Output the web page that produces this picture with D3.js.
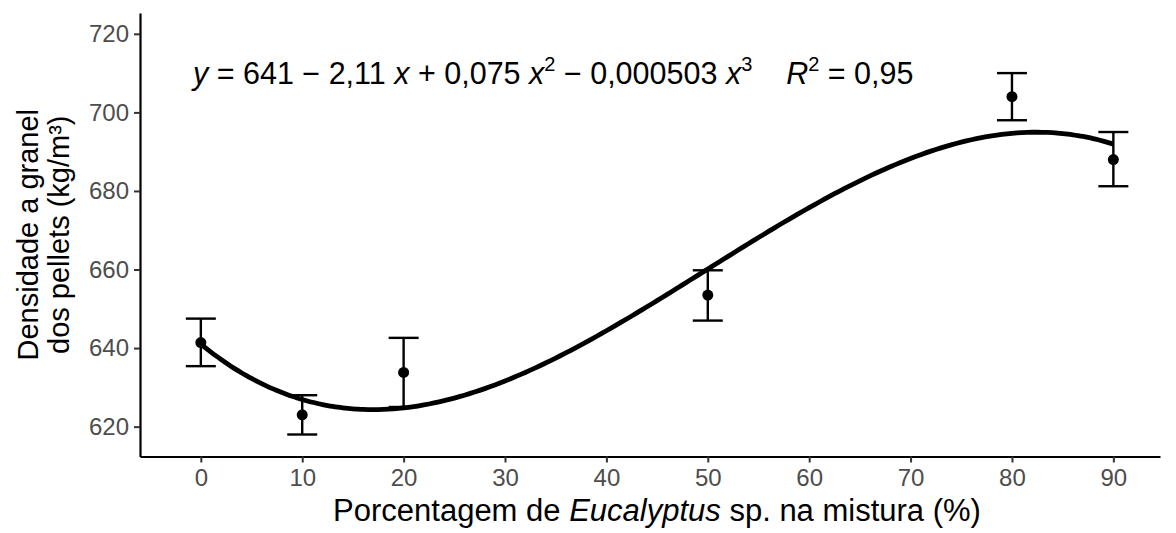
<!DOCTYPE html>
<html>
<head>
<meta charset="utf-8">
<script src="https://cdn.jsdelivr.net/npm/d3@7"></script>
<style>
  body { margin: 0; background: #fff; }
  svg { font-family: "Liberation Sans", Arial, sans-serif; display: block; }
</style>
</head>
<body>
<svg width="1176" height="533"></svg>
<script>
// data
const mix = [0, 10, 20, 50, 80, 90];
const density = [641.4, 623.0, 633.8, 653.5, 704.0, 688.0];
const errLow = [635.4, 618.0, 625.0, 647.0, 698.0, 681.2];
const errHigh = [647.5, 628.0, 642.6, 659.8, 710.0, 695.0];
const xTicks = [0, 10, 20, 30, 40, 50, 60, 70, 80, 90];
const yTicks = [620, 640, 660, 680, 700, 720];
// fitted polynomial shown on the chart: b0 + b1 x + b2 x^2 + b3 x^3
const coef = [641, -2.11, 0.075, -0.000503];

const svg = d3.select("svg");

const x = d3.scaleLinear().domain([-6.0, 94.6]).range([140, 1160]);
const y = d3.scaleLinear().domain([612.4, 725.3]).range([456.5, 13]);

// axes
const xAxis = svg.append("g")
  .attr("transform", `translate(0,${y.range()[0]})`)
  .call(d3.axisBottom(x).tickValues(xTicks).tickSize(6).tickPadding(6).tickSizeOuter(0));
const yAxis = svg.append("g")
  .attr("transform", `translate(${x.range()[0]},0)`)
  .call(d3.axisLeft(y).tickValues(yTicks).tickSize(6).tickPadding(5).tickSizeOuter(0));

[xAxis, yAxis].forEach(ax => {
  ax.select(".domain").attr("stroke", "#000").attr("stroke-width", 2.2);
  ax.selectAll(".tick line").attr("stroke", "#333").attr("stroke-width", 2);
  ax.selectAll(".tick text")
    .attr("fill", "#4d4d4d")
    .style("font-size", "24px")
    .style("font-family", "'Liberation Sans', Arial, sans-serif");
});

// fitted curve
const poly = v => coef.reduce((s, c, i) => s + c * Math.pow(v, i), 0);
const curveX = d3.range(0, 90.01, 0.5);
svg.append("path")
  .datum(curveX)
  .attr("fill", "none")
  .attr("stroke", "#000")
  .attr("stroke-width", 4.8)
  .attr("d", d3.line().x(d => x(d)).y(d => y(poly(d))).curve(d3.curveBasis));

// error bars
const capW = 15;
const eb = svg.append("g").attr("stroke", "#000").attr("stroke-width", 2.4);
mix.forEach((m, i) => {
  eb.append("line").attr("x1", x(m)).attr("x2", x(m)).attr("y1", y(errLow[i])).attr("y2", y(errHigh[i]));
  eb.append("line").attr("x1", x(m) - capW).attr("x2", x(m) + capW).attr("y1", y(errLow[i])).attr("y2", y(errLow[i]));
  eb.append("line").attr("x1", x(m) - capW).attr("x2", x(m) + capW).attr("y1", y(errHigh[i])).attr("y2", y(errHigh[i]));
});

// points
svg.append("g").selectAll("circle")
  .data(mix)
  .join("circle")
  .attr("cx", d => x(d))
  .attr("cy", (d, i) => y(density[i]))
  .attr("r", 5.5)
  .attr("fill", "#000");

// equation label
const eq = svg.append("text")
  .attr("x", 193)
  .attr("y", 84)
  .attr("xml:space", "preserve")
  .style("font-size", "30.5px")
  .attr("fill", "#000");
const sup = (t) => eq.append("tspan").attr("dy", -13).style("font-size", "20px").text(t);
eq.append("tspan").style("font-style", "italic").text("y");
eq.append("tspan").text(" = 641 \u2212 2,11 ");
eq.append("tspan").style("font-style", "italic").text("x");
eq.append("tspan").text(" + 0,075 ");
eq.append("tspan").style("font-style", "italic").text("x");
sup("2");
eq.append("tspan").attr("dy", 13).text(" \u2212 0,000503 ");
eq.append("tspan").style("font-style", "italic").text("x");
sup("3");
eq.append("tspan").attr("dy", 13).text("    ");
eq.append("tspan").style("font-style", "italic").text("R");
sup("2");
eq.append("tspan").attr("dy", 13).text(" = 0,95");

// axis titles
svg.append("text")
  .attr("x", 657)
  .attr("y", 521)
  .attr("text-anchor", "middle")
  .style("font-size", "31px")
  .attr("fill", "#000")
  .call(t => {
    t.append("tspan").text("Porcentagem de ");
    t.append("tspan").style("font-style", "italic").text("Eucalyptus");
    t.append("tspan").text(" sp. na mistura (%)");
  });

const yTitle = svg.append("text")
  .attr("transform", `translate(38,${(y.range()[0] + y.range()[1]) / 2}) rotate(-90)`)
  .attr("text-anchor", "middle")
  .style("font-size", "29px")
  .attr("fill", "#000");
yTitle.append("tspan").attr("x", 0).attr("y", 0).text("Densidade a granel");
yTitle.append("tspan").attr("x", 0).attr("y", 31).text("dos pellets (kg/m\u00b3)");
</script>
</body>
</html>
